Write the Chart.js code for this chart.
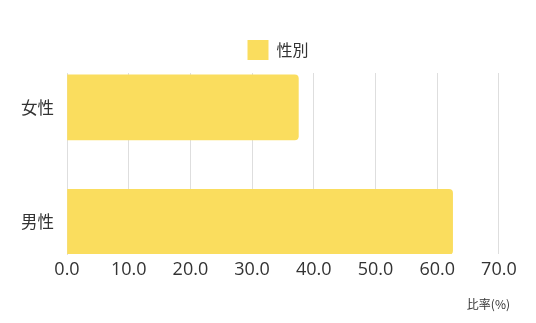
<!DOCTYPE html>
<html>
<head>
<meta charset="utf-8">
<script src="https://cdn.jsdelivr.net/npm/chart.js@4/dist/chart.umd.min.js"></script>
<style>
  html, body { margin: 0; padding: 0; background: #ffffff; }
  #wrap { width: 536px; height: 323px; position: relative; }
</style>
</head>
<body>
<div id="wrap"><canvas id="c"></canvas></div>
<script>
// ---- data ----
const categories = ['女性', '男性'];
const seriesLabel = '性別';
const values = [37.5, 62.5];
const xTickValues = [0, 10, 20, 30, 40, 50, 60, 70];
const xAxisTitle = '比率(%)';

const FONT = "'Noto Sans CJK JP', 'Noto Sans', sans-serif";
const NUMFONT = "'Open Sans', 'Noto Sans CJK JP', sans-serif";
const TEXT = '#333333';
const GRID = '#dedede';
const BAR = '#FADD5E';

const points = categories.map((c, i) => ({ x: values[i], y: i }));

const legendTweak = {
  id: 'legendTweak',
  beforeInit(chart) {
    const origFit = chart.legend.fit;
    chart.legend.fit = function () {
      origFit.call(this);
      this.height += 3;
    };
  },
  afterLayout(chart) {
    chart.legend.left += 26;
  }
};

new Chart(document.getElementById('c'), {
  type: 'bar',
  data: {
    datasets: [{
      label: seriesLabel,
      data: points,
      backgroundColor: BAR,
      borderWidth: 0,
      borderRadius: 4,
      borderSkipped: 'start',
      barThickness: 65
    }]
  },
  options: {
    indexAxis: 'y',
    responsive: true,
    maintainAspectRatio: false,
    animation: false,
    layout: { padding: { top: 30, left: 20, right: 26, bottom: 0 } },
    plugins: {
      legend: {
        position: 'top',
        labels: {
          boxWidth: 21,
          boxHeight: 20,
          padding: 10,
          color: TEXT,
          font: { family: FONT, size: 16 }
        }
      },
      tooltip: { enabled: false }
    },
    scales: {
      x: {
        type: 'linear',
        position: 'bottom',
        min: 0,
        max: 71.8,
        afterBuildTicks(scale) {
          scale.ticks = xTickValues.map(v => ({ value: v }));
        },
        afterFit(scale) {
          scale.height = 69;
        },
        ticks: {
          padding: 5,
          color: TEXT,
          font: { family: NUMFONT, size: 18 },
          callback: (v) => Number(v).toFixed(1)
        },
        grid: { color: GRID, lineWidth: 1, drawTicks: false },
        border: { display: false },
        title: {
          display: true,
          text: xAxisTitle,
          align: 'end',
          color: TEXT,
          font: { family: FONT, size: 12 },
          padding: { top: 18, bottom: 11 }
        }
      },
      y: {
        type: 'linear',
        reverse: true,
        offset: false,
        min: -0.3,
        max: 1.28,
        afterBuildTicks(scale) {
          scale.ticks = categories.map((c, i) => ({ value: i }));
        },
        afterFit(scale) {
          scale.width = 47;
          scale.paddingTop = 0;
          scale.paddingBottom = 0;
        },
        ticks: {
          padding: 13,
          color: TEXT,
          font: { family: FONT, size: 16.5 },
          callback: (v) => categories[v]
        },
        grid: { display: false, drawTicks: false, offset: false },
        border: { display: true, color: GRID, width: 1 }
      }
    }
  },
  plugins: [legendTweak]
});
</script>
</body>
</html>
